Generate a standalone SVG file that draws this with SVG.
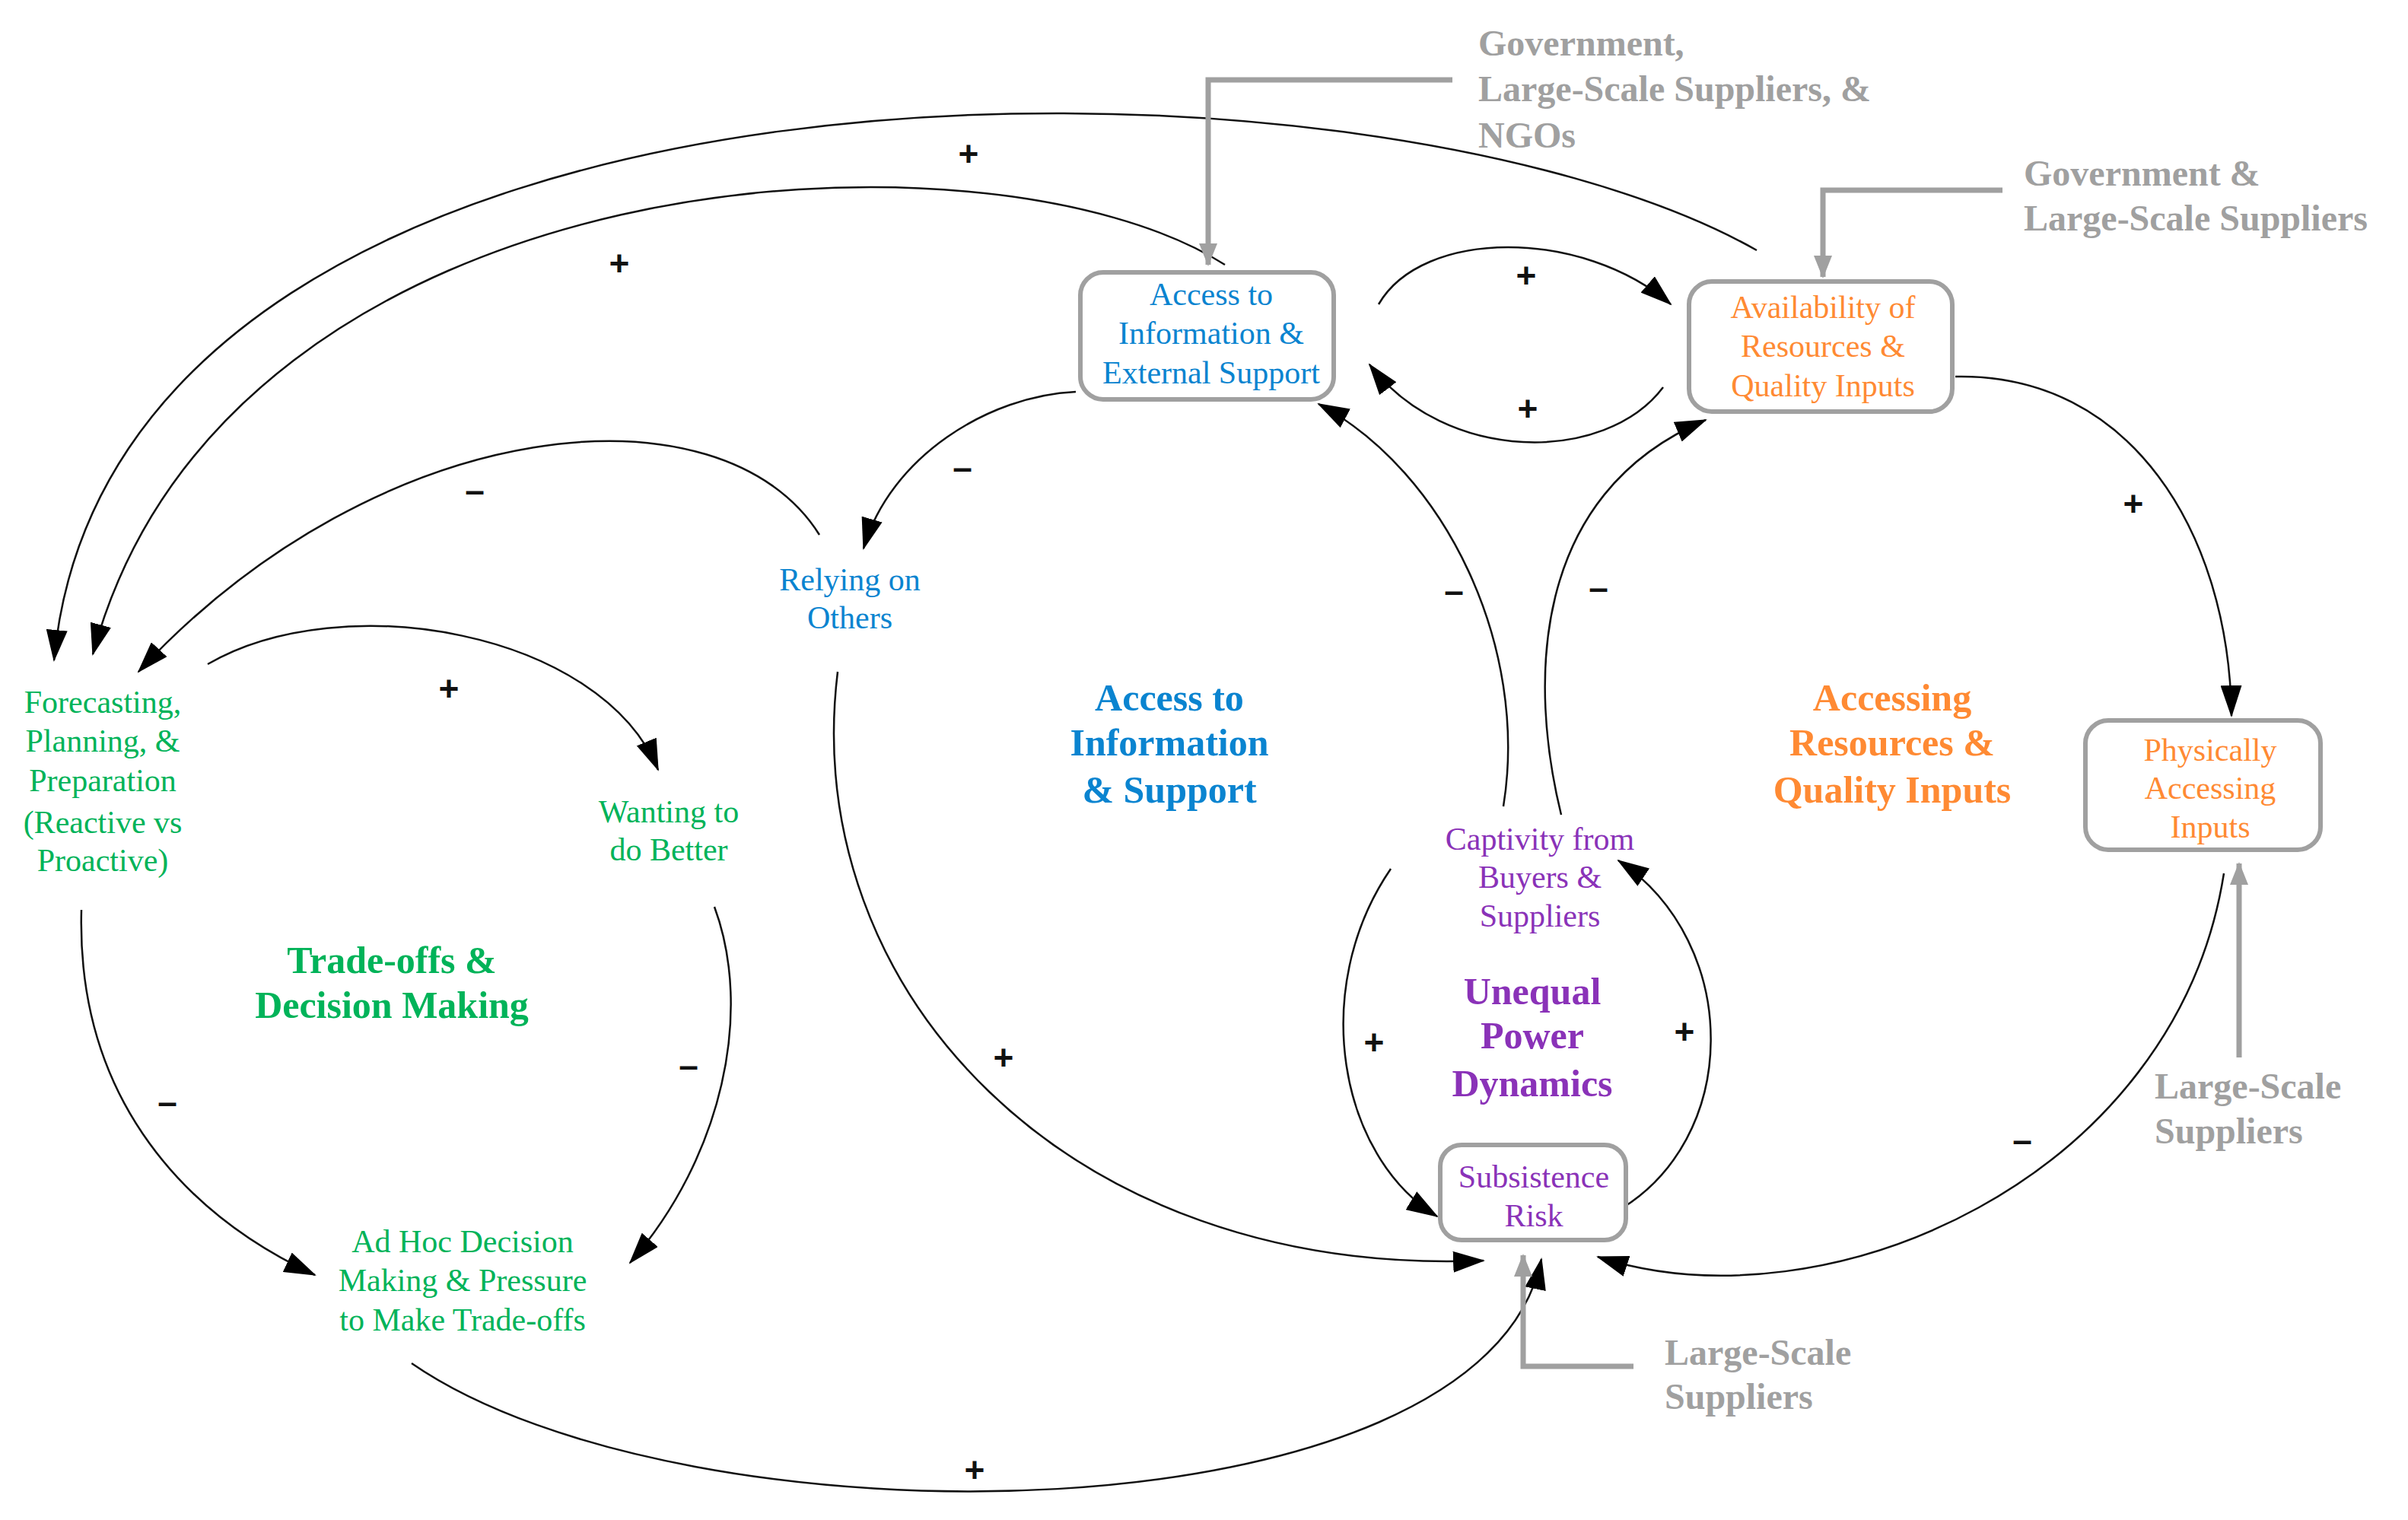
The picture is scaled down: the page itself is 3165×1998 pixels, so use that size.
<svg xmlns="http://www.w3.org/2000/svg" width="3165" height="1998" viewBox="0 0 3165 1998">
<style>
.box{fill:#fff;stroke:#a0a0a0;stroke-width:6}
.t{font-family:"Liberation Serif",serif;font-size:42px;text-anchor:middle}
.b{font-family:"Liberation Serif",serif;font-size:50px;font-weight:bold;text-anchor:middle}
.g{font-family:"Liberation Serif",serif;font-size:48px;font-weight:bold;fill:#a0a0a0}
.blue{fill:#0a84d0}.or{fill:#ff8a33}.gr{fill:#00b359}.pu{fill:#8a32b8}
.c{fill:none;stroke:#111;stroke-width:2.5}
.ga{fill:none;stroke:#a0a0a0;stroke-width:7}
.s{font-family:"Liberation Sans",sans-serif;font-size:46px;font-weight:bold;text-anchor:middle;fill:#111}
</style>
<defs>
<marker id="ah" markerUnits="userSpaceOnUse" markerWidth="44" markerHeight="28" refX="40" refY="14" orient="auto"><path d="M0,0 L42,14 L0,28 Z" fill="#000"/></marker>
<marker id="gh" markerUnits="userSpaceOnUse" markerWidth="30" markerHeight="24" refX="28" refY="12" orient="auto"><path d="M0,0 L30,12 L0,24 Z" fill="#a0a0a0"/></marker>
</defs>
<g id="connectors">
<path class="c" marker-end="url(#ah)" d="M2309 329 C1800 40 150 20 71 868"/>
<path class="c" marker-end="url(#ah)" d="M1610 348 C1300 150 300 200 122 860"/>
<path class="c" marker-end="url(#ah)" d="M1077 703 C950 500 500 540 182 883"/>
<path class="c" marker-end="url(#ah)" d="M1414 515 C1300 520 1170 600 1135 721"/>
<path class="c" marker-end="url(#ah)" d="M1812 400 C1870 300 2080 300 2196 400"/>
<path class="c" marker-end="url(#ah)" d="M2186 509 C2110 610 1900 610 1800 479"/>
<path class="c" marker-end="url(#ah)" d="M1976 1060 C2010 850 1900 620 1733 531"/>
<path class="c" marker-end="url(#ah)" d="M2052 1071 C2010 900 2010 650 2242 552"/>
<path class="c" marker-end="url(#ah)" d="M2570 495 C2800 490 2930 700 2933 941"/>
<path class="c" marker-end="url(#ah)" d="M2923 1148 C2860 1550 2400 1750 2100 1652"/>
<path class="c" marker-end="url(#ah)" d="M1101 883 C1050 1300 1400 1680 1950 1657"/>
<path class="c" marker-end="url(#ah)" d="M1828 1142 C1720 1300 1760 1520 1889 1599"/>
<path class="c" marker-end="url(#ah)" d="M2122 1594 C2290 1500 2290 1240 2127 1131"/>
<path class="c" marker-end="url(#ah)" d="M541 1792 C900 2040 1950 2030 2026 1655"/>
<path class="c" marker-end="url(#ah)" d="M273 873 C450 770 790 830 865 1012"/>
<path class="c" marker-end="url(#ah)" d="M107 1196 C100 1450 250 1600 414 1676"/>
<path class="c" marker-end="url(#ah)" d="M939 1192 C990 1330 950 1520 828 1660"/>
<path class="ga" marker-end="url(#gh)" d="M1909 105 H1588 V348"/>
<path class="ga" marker-end="url(#gh)" d="M2632 250 H2396 V364"/>
<path class="ga" marker-end="url(#gh)" d="M2943 1390 V1135"/>
<path class="ga" marker-end="url(#gh)" d="M2147 1796 H2002 V1650"/>
</g>
<g id="signs">
<text class="s" x="1273" y="218">+</text>
<text class="s" x="814" y="362">+</text>
<text class="s" x="624" y="660">–</text>
<text class="s" x="1265" y="630">–</text>
<text class="s" x="2006" y="378">+</text>
<text class="s" x="2008" y="553">+</text>
<text class="s" x="1911" y="792">–</text>
<text class="s" x="2101" y="788">–</text>
<text class="s" x="2804" y="678">+</text>
<text class="s" x="2658" y="1514">–</text>
<text class="s" x="1319" y="1406">+</text>
<text class="s" x="1806" y="1386">+</text>
<text class="s" x="2214" y="1372">+</text>
<text class="s" x="1281" y="1948">+</text>
<text class="s" x="590" y="921">+</text>
<text class="s" x="220" y="1464">–</text>
<text class="s" x="905" y="1416">–</text>
</g>
<g id="access"><rect class="box" x="1420" y="358" width="333" height="167" rx="30"/>
<text class="t blue" x="1592" y="401">Access to</text><text class="t blue" x="1592" y="452">Information &amp;</text><text class="t blue" x="1592" y="504">External Support</text></g>
<g id="availability"><rect class="box" x="2220" y="370" width="346" height="171" rx="30"/>
<text class="t or" x="2396" y="418">Availability of</text><text class="t or" x="2396" y="469">Resources &amp;</text><text class="t or" x="2396" y="521">Quality Inputs</text></g>
<g id="physically"><rect class="box" x="2741" y="947" width="309" height="170" rx="30"/>
<text class="t or" x="2905" y="1000">Physically</text><text class="t or" x="2905" y="1050">Accessing</text><text class="t or" x="2905" y="1101">Inputs</text></g>
<g id="subsistence"><rect class="box" x="1893" y="1505" width="244" height="125" rx="28"/>
<text class="t pu" x="2016" y="1561">Subsistence</text><text class="t pu" x="2016" y="1612">Risk</text></g>
<g id="relying"><text class="t blue" x="1117" y="776">Relying on</text><text class="t blue" x="1117" y="826">Others</text></g>
<g id="forecasting"><text class="t gr" x="135" y="937">Forecasting,</text><text class="t gr" x="135" y="988">Planning, &amp;</text><text class="t gr" x="135" y="1040">Preparation</text><text class="t gr" x="135" y="1095">(Reactive vs</text><text class="t gr" x="135" y="1145">Proactive)</text></g>
<g id="wanting"><text class="t gr" x="879" y="1081">Wanting to</text><text class="t gr" x="879" y="1131">do Better</text></g>
<g id="adhoc"><text class="t gr" x="608" y="1646">Ad Hoc Decision</text><text class="t gr" x="608" y="1697">Making &amp; Pressure</text><text class="t gr" x="608" y="1749">to Make Trade-offs</text></g>
<g id="captivity"><text class="t pu" x="2024" y="1117">Captivity from</text><text class="t pu" x="2024" y="1167">Buyers &amp;</text><text class="t pu" x="2024" y="1218">Suppliers</text></g>
<g id="loops">
<text class="b blue" x="1537" y="934">Access to</text><text class="b blue" x="1537" y="993">Information</text><text class="b blue" x="1537" y="1055">&amp; Support</text>
<text class="b or" x="2487" y="934">Accessing</text><text class="b or" x="2487" y="993">Resources &amp;</text><text class="b or" x="2487" y="1055">Quality Inputs</text>
<text class="b gr" x="515" y="1279">Trade-offs &amp;</text><text class="b gr" x="515" y="1338">Decision Making</text>
<text class="b pu" x="2014" y="1320">Unequal</text><text class="b pu" x="2014" y="1378">Power</text><text class="b pu" x="2014" y="1441">Dynamics</text>
</g>
<g id="external">
<text class="g" x="1943" y="73">Government,</text><text class="g" x="1943" y="133">Large-Scale Suppliers, &amp;</text><text class="g" x="1943" y="194">NGOs</text>
<text class="g" x="2660" y="244">Government &amp;</text><text class="g" x="2660" y="303">Large-Scale Suppliers</text>
<text class="g" x="2832" y="1444">Large-Scale</text><text class="g" x="2832" y="1503">Suppliers</text>
<text class="g" x="2188" y="1794">Large-Scale</text><text class="g" x="2188" y="1852">Suppliers</text>
</g>
</svg>
